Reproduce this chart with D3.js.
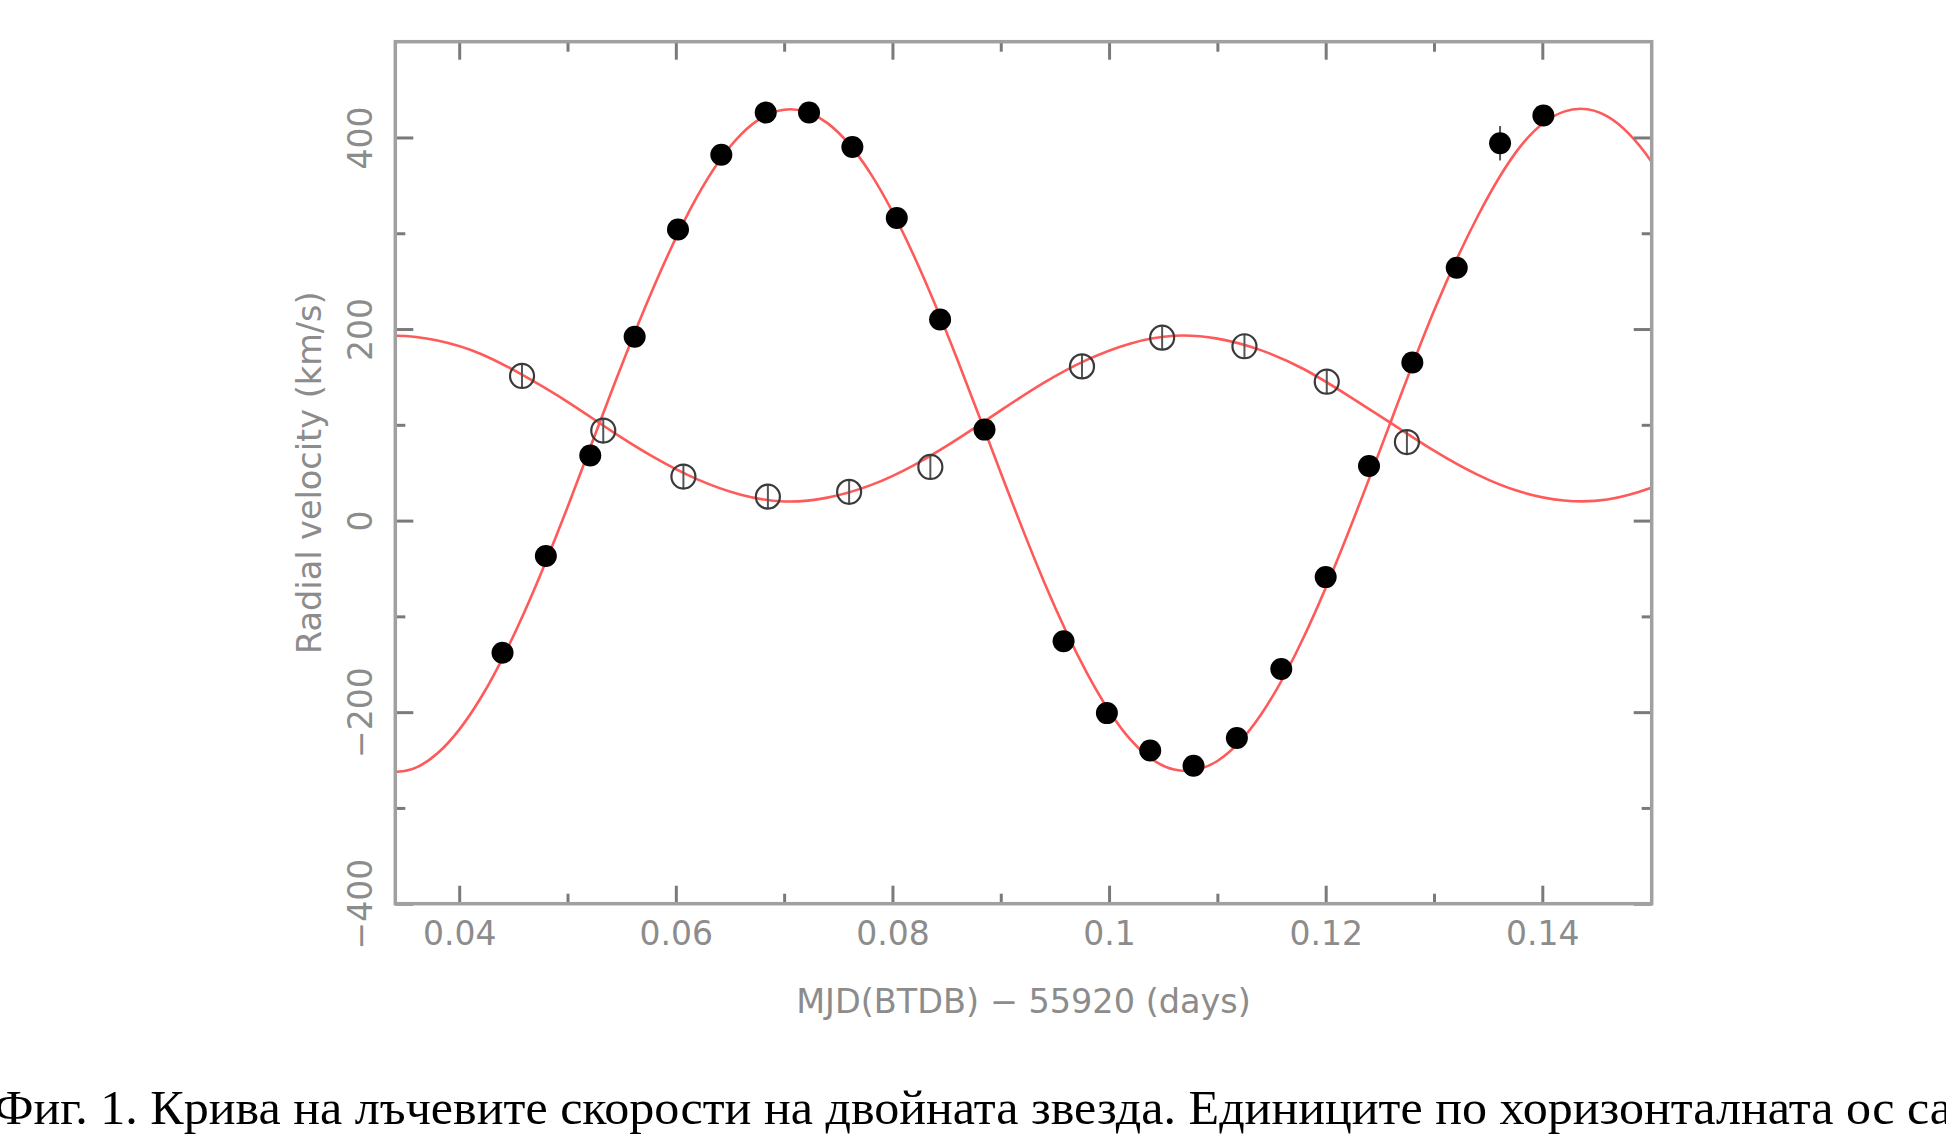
<!DOCTYPE html>
<html>
<head>
<meta charset="utf-8">
<style type="text/css">
body { margin: 0; background: #fff; }
.frame { fill: none; stroke: #a0a0a0; stroke-width: 3.5; }
.curve { fill: none; stroke: #ff5a5a; stroke-width: 2.6; }
.axis line { stroke: #7a7a7a; stroke-width: 3; }
.axis text { font-family: "DejaVu Sans", sans-serif; font-size: 33px; fill: #8c8c8c; }
.title { font-family: "DejaVu Sans", sans-serif; font-size: 33.5px; fill: #8c8c8c; }
.caption { font-family: "Liberation Serif", "Times New Roman", serif; font-size: 49px; fill: #000; }
.err { stroke: #555; stroke-width: 2; }
</style>
<script src="https://d3js.org/d3.v7.min.js"></script>
</head>
<body>
<script type="text/javascript">
var width  = 1946;
var height = 1139;

// primary star (filled dots): time, velocity, error
var primX = [0.0440, 0.0480, 0.0521, 0.0562, 0.0602, 0.0642, 0.0683, 0.0723, 0.0763, 0.0804, 0.0844, 0.0885,
             0.0958, 0.0998, 0.1038, 0.1078, 0.1118, 0.1159, 0.1200, 0.1240, 0.1280, 0.1321, 0.1361, 0.1401];
var primV = [-138, -37, 68, 192, 304, 382, 426, 426, 390, 316, 210, 95,
             -126, -201, -240, -256, -227, -155, -59, 57, 165, 264, 394, 423];
var primE = [8, 8, 8, 8, 8, 8, 8, 8, 8, 8, 8, 8,
             8, 8, 8, 8, 8, 8, 8, 8, 8, 8, 18, 8];

// secondary star (open circles)
var secX = [0.0458, 0.0533, 0.0607, 0.0685, 0.0760, 0.0835, 0.0975, 0.1049, 0.1125, 0.1201, 0.1275];
var secV = [151, 94, 46, 25, 30, 56, 161, 191, 182, 145, 82];
var secE = [12, 12, 12, 12, 12, 12, 12, 12, 12, 12, 12];

// fitted curves (a little past both edges, clipped)
var fitX  = [0.030, 0.034, 0.038, 0.042, 0.046, 0.050, 0.054, 0.058, 0.062, 0.066, 0.070, 0.074, 0.078, 0.082, 0.086, 0.090,
             0.094, 0.098, 0.102, 0.106, 0.110, 0.114, 0.118, 0.122, 0.126, 0.130, 0.134, 0.138, 0.142, 0.146, 0.150, 0.154];
var fitP  = [-241, -262, -243, -185, -96, 14, 133, 245, 339, 403, 429, 415, 362, 276, 168, 50,
             -64, -160, -229, -260, -251, -203, -121, -15, 103, 219, 317, 391, 427, 422, 376, 300];
var fitS  = [188, 193, 188, 174, 151, 124, 94, 66, 43, 27, 20, 24, 37, 58, 85, 115,
             144, 168, 185, 193, 190, 178, 158, 131, 102, 73, 48, 30, 21, 22, 34, 52];

var xMajor = [0.04, 0.06, 0.08, 0.10, 0.12, 0.14];
var xMinor = [0.05, 0.07, 0.09, 0.11, 0.13];
var yMajor = [-400, -200, 0, 200, 400];
var yMinor = [-300, -100, 100, 300];

var xTitle = "MJD(BTDB) \u2212 55920 (days)";
var yTitle = "Radial velocity (km/s)";
var caption = "Фиг. 1. Крива на лъчевите скорости на двойната звезда. Единиците по хоризонталната ос са";

var pLeft = 395.3, pRight = 1651.7, pTop = 41.7, pBottom = 903.7;

var x = d3.scaleLinear().domain([0.0341, 0.1501]).range([pLeft, pRight]);
var y = d3.scaleLinear().domain([-400, 500]).range([pBottom, pTop]);

var svg = d3.select("body").append("svg").attr("width", width).attr("height", height);

svg.append("clipPath").attr("id", "plotclip").append("rect")
	.attr("x", pLeft).attr("y", pTop).attr("width", pRight - pLeft).attr("height", pBottom - pTop);

// curves
var line = d3.line().curve(d3.curveNatural)
	.x(function(d) { return x(d[0]); })
	.y(function(d) { return y(d[1]); });
var gc = svg.append("g").attr("clip-path", "url(#plotclip)");
gc.append("path").attr("class", "curve").attr("d", line(d3.zip(fitX, fitP)));
gc.append("path").attr("class", "curve").attr("d", line(d3.zip(fitX, fitS)));

// axes, ticks inside the frame on all four sides
function fmt(d) { return d3.format("")(+d.toFixed(2)).replace("-", "\u2212"); }

var gB = svg.append("g").attr("class", "axis").attr("transform", "translate(0," + pBottom + ")")
	.call(d3.axisBottom(x).tickValues(xMajor).tickSize(-18).tickFormat(fmt));
gB.selectAll("text").attr("y", 18).attr("dy", "0.71em");
svg.append("g").attr("class", "axis").attr("transform", "translate(0," + pBottom + ")")
	.call(d3.axisBottom(x).tickValues(xMinor).tickSize(-10).tickFormat(""));
svg.append("g").attr("class", "axis").attr("transform", "translate(0," + pTop + ")")
	.call(d3.axisTop(x).tickValues(xMajor).tickSize(-18).tickFormat(""));
svg.append("g").attr("class", "axis").attr("transform", "translate(0," + pTop + ")")
	.call(d3.axisTop(x).tickValues(xMinor).tickSize(-10).tickFormat(""));

var gL = svg.append("g").attr("class", "axis").attr("transform", "translate(" + pLeft + ",0)")
	.call(d3.axisLeft(y).tickValues(yMajor).tickSize(-18).tickFormat(fmt));
gL.selectAll("text")
	.attr("transform", "rotate(-90)")
	.attr("x", 0).attr("y", -35.3).attr("dy", "0.35em")
	.attr("text-anchor", "middle");
svg.append("g").attr("class", "axis").attr("transform", "translate(" + pLeft + ",0)")
	.call(d3.axisLeft(y).tickValues(yMinor).tickSize(-10).tickFormat(""));
svg.append("g").attr("class", "axis").attr("transform", "translate(" + pRight + ",0)")
	.call(d3.axisRight(y).tickValues(yMajor).tickSize(-18).tickFormat(""));
svg.append("g").attr("class", "axis").attr("transform", "translate(" + pRight + ",0)")
	.call(d3.axisRight(y).tickValues(yMinor).tickSize(-10).tickFormat(""));
svg.selectAll(".axis .domain").remove();

svg.append("rect").attr("class", "frame")
	.attr("x", pLeft).attr("y", pTop).attr("width", pRight - pLeft).attr("height", pBottom - pTop);

// secondary: open circles with error bars
var sec = d3.zip(secX, secV, secE);
svg.selectAll(".errS").data(sec).enter().append("line").attr("class", "err")
	.attr("x1", function(d) { return x(d[0]); }).attr("x2", function(d) { return x(d[0]); })
	.attr("y1", function(d) { return y(d[1] - d[2]); }).attr("y2", function(d) { return y(d[1] + d[2]); });
svg.selectAll(".sec").data(sec).enter().append("circle")
	.attr("cx", function(d) { return x(d[0]); })
	.attr("cy", function(d) { return y(d[1]); })
	.attr("r", 12)
	.attr("fill", "none").attr("stroke", "#3a3a3a").attr("stroke-width", 2.2);

// primary: filled dots with error bars
var prim = d3.zip(primX, primV, primE);
svg.selectAll(".errP").data(prim).enter().append("line").attr("class", "err")
	.attr("x1", function(d) { return x(d[0]); }).attr("x2", function(d) { return x(d[0]); })
	.attr("y1", function(d) { return y(d[1] - d[2]); }).attr("y2", function(d) { return y(d[1] + d[2]); });
svg.selectAll(".prim").data(prim).enter().append("circle")
	.attr("cx", function(d) { return x(d[0]); })
	.attr("cy", function(d) { return y(d[1]); })
	.attr("r", 11)
	.attr("fill", "#000");

// titles
svg.append("text").attr("class", "title")
	.attr("x", (pLeft + pRight) / 2).attr("y", 1001).attr("dy", "0.35em")
	.attr("text-anchor", "middle").text(xTitle);
svg.append("text").attr("class", "title")
	.attr("transform", "translate(309," + ((pTop + pBottom) / 2) + ") rotate(-90)")
	.attr("dy", "0.35em").attr("text-anchor", "middle").text(yTitle);

svg.append("text").attr("class", "caption")
	.attr("x", -6).attr("y", 1124)
	.attr("textLength", 1958).attr("lengthAdjust", "spacingAndGlyphs")
	.text(caption);
</script>
</body>
</html>
